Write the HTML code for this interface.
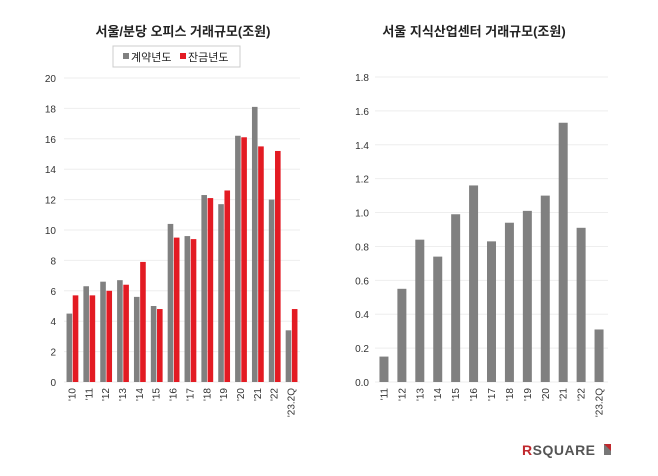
<!DOCTYPE html>
<html><head><meta charset="utf-8"><style>
html,body{margin:0;padding:0;background:#fff;}
svg{display:block;font-family:"Liberation Sans","Noto Sans CJK KR",sans-serif;}
</style></head><body>
<svg id="c" width="658" height="476" viewBox="0 0 658 476">
<text x="183" y="36" text-anchor="middle" font-size="13" font-weight="bold" fill="#222">서울/분당 오피스 거래규모(조원)</text>
<text x="474" y="36" text-anchor="middle" font-size="13" font-weight="bold" fill="#222">서울 지식산업센터 거래규모(조원)</text>
<g>
<rect x="113" y="46" width="127" height="21" fill="#fff" stroke="#ccc"/>
<rect x="123" y="53" width="6" height="6" fill="#808080"/>
<text x="131" y="61" font-size="11" fill="#222">계약년도</text>
<rect x="180" y="53" width="6" height="6" fill="#e31b23"/>
<text x="188" y="61" font-size="11" fill="#222">잔금년도</text>
</g>
<g>
<text x="522" y="455" font-size="14" font-weight="bold" letter-spacing="0.5" fill="#555"><tspan fill="#c0282d">R</tspan>SQUARE</text>
<rect x="604" y="444" width="7" height="11" fill="#777"/>
<polygon points="604,444 611,444 611,451" fill="#c0282d"/>
</g>
</svg>
<script>
const leftCats=["'10","'11","'12","'13","'14","'15","'16","'17","'18","'19","'20","'21","'22","'23.2Q"];
const leftContract=[4.5,6.3,6.6,6.7,5.6,5.0,10.4,9.6,12.3,11.7,16.2,18.1,12.0,3.4];
const leftPayment=[5.7,5.7,6.0,6.4,7.9,4.8,9.5,9.4,12.1,12.6,16.1,15.5,15.2,4.8];
const leftTicks=[0,2,4,6,8,10,12,14,16,18,20];
const rightCats=["'11","'12","'13","'14","'15","'16","'17","'18","'19","'20","'21","'22","'23.2Q"];
const rightValues=[0.15,0.55,0.84,0.74,0.99,1.16,0.83,0.94,1.01,1.10,1.53,0.91,0.31];
const rightTicks=["0.0","0.2","0.4","0.6","0.8","1.0","1.2","1.4","1.6","1.8"];

const svg=document.getElementById('c');
const NS='http://www.w3.org/2000/svg';
function mk(t,a){const e=document.createElementNS(NS,t);for(const k in a)e.setAttribute(k,a[k]);svg.appendChild(e);return e;}

// left chart
const L={x0:64,x1:300,y0:382,y1:78,max:20};
const ly=v=>L.y0-(v/L.max)*(L.y0-L.y1);
const lStep=(L.x1-L.x0)/leftCats.length;
leftTicks.forEach(t=>{
  const g=mk('line',{x1:L.x0,x2:L.x1,y1:ly(t),y2:ly(t),stroke:'#eee','stroke-width':1});
  
  
  const tx=mk('text',{x:56,y:ly(t)+4,'text-anchor':'end','font-size':10,fill:'#333'});
  tx.textContent=t;
  
  
});
leftCats.forEach((c,i)=>{
  const cx=L.x0+lStep*(i+0.5);
  const bw=5.6;
  const b1=mk('rect',{x:cx-bw-0.3,y:ly(leftContract[i]),width:bw,height:L.y0-ly(leftContract[i]),fill:'#808080'});
  
  
  const b2=mk('rect',{x:cx+0.3,y:ly(leftPayment[i]),width:bw,height:L.y0-ly(leftPayment[i]),fill:'#e31b23'});
  
  
  const t=mk('text',{x:0,y:0,'font-size':10,fill:'#333','text-anchor':'end',transform:`translate(${cx+3},${L.y0+6}) rotate(-90)`});
  t.textContent=c;
  
  
});

// right chart
const R={x0:375,x1:608,y0:382,y1:77,max:1.8};
const ry=v=>R.y0-(v/R.max)*(R.y0-R.y1);
const rStep=(R.x1-R.x0)/rightCats.length;
rightTicks.forEach(t=>{
  const v=parseFloat(t);
  const g=mk('line',{x1:R.x0,x2:R.x1,y1:ry(v),y2:ry(v),stroke:'#eee','stroke-width':1});
  
  
  const tx=mk('text',{x:369,y:ry(v)+4,'text-anchor':'end','font-size':10,fill:'#333'});
  tx.textContent=t;
  
  
});
rightCats.forEach((c,i)=>{
  const cx=R.x0+rStep*(i+0.5);
  const bw=9;
  const b=mk('rect',{x:cx-bw/2,y:ry(rightValues[i]),width:bw,height:R.y0-ry(rightValues[i]),fill:'#808080'});
  
  
  const t=mk('text',{x:0,y:0,'font-size':10,fill:'#333','text-anchor':'end',transform:`translate(${cx+3.5},${R.y0+6}) rotate(-90)`});
  t.textContent=c;
  
  
});
</script>
</body></html>
